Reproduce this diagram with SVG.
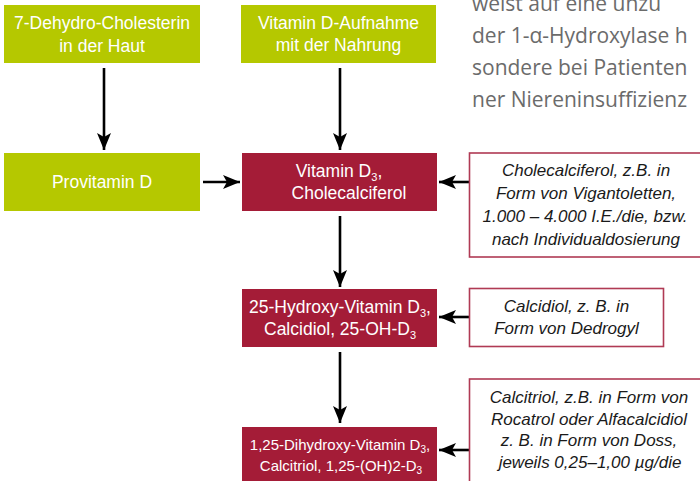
<svg xmlns="http://www.w3.org/2000/svg" width="700" height="481" viewBox="0 0 700 481">
<defs>
<style>
.green{fill:#b5c800}
.red{fill:#a41c37}
.note{fill:#ffffff;stroke:#b03a54;stroke-width:1.6}
.bt{font-family:"Liberation Sans",Arial,sans-serif;font-size:17.5px;fill:#ffffff;text-anchor:middle}
.sm{font-size:15px}
.nt{font-family:"Liberation Sans",Arial,sans-serif;font-size:17px;font-style:italic;fill:#1a1a1a;text-anchor:middle}
.gt{font-family:"Open Sans","Noto Sans",sans-serif;font-size:21px;fill:#6b6b6b}
.con{stroke:#000000;stroke-width:2.6;fill:none;marker-end:url(#ah)}
</style>
<marker id="ah" markerUnits="userSpaceOnUse" markerWidth="18" markerHeight="14" refX="17" refY="7" orient="auto">
<path d="M0,0 L17,7 L0,14 L4,7 Z" fill="#000000"/>
</marker>
</defs>

<g id="bodytext">
<text class="gt" x="472" y="11">weist auf eine unzu</text>
<text class="gt" x="472" y="43">der 1-α-Hydroxylase h</text>
<text class="gt" x="472" y="75">sondere bei Patienten</text>
<text class="gt" x="472" y="107">ner Niereninsuffizienz</text>
</g>

<g id="connectors">
<line class="con" x1="104" y1="68" x2="104" y2="150"/>
<line class="con" x1="340" y1="68" x2="340" y2="150"/>
<line class="con" x1="203" y1="182" x2="240" y2="182"/>
<line class="con" x1="469" y1="182" x2="439" y2="182"/>
<line class="con" x1="340" y1="216" x2="340" y2="287"/>
<line class="con" x1="469" y1="317" x2="439" y2="317"/>
<line class="con" x1="340" y1="352" x2="340" y2="423"/>
<line class="con" x1="469" y1="450" x2="439" y2="450"/>
</g>

<g id="dehydro">
<rect class="green" x="4" y="5" width="196" height="58"/>
<text class="bt" x="102" y="29">7-Dehydro-Cholesterin</text>
<text class="bt" x="102" y="51.5">in der Haut</text>
</g>

<g id="aufnahme">
<rect class="green" x="241" y="5" width="195" height="58"/>
<text class="bt" x="338.5" y="28.5">Vitamin D-Aufnahme</text>
<text class="bt" x="338.5" y="50.5">mit der Nahrung</text>
</g>

<g id="provitamin">
<rect class="green" x="4" y="153" width="196" height="58"/>
<text class="bt" x="102" y="188">Provitamin D</text>
</g>

<g id="vitd3">
<rect class="red" x="242" y="153" width="195" height="58"/>
<text class="bt" x="339" y="177">Vitamin D<tspan font-size="11" dy="4">3</tspan><tspan dy="-4">,</tspan></text>
<text class="bt" x="349" y="198.5">Cholecalciferol</text>
</g>

<g id="calcidiol">
<rect class="red" x="242" y="289" width="195" height="58"/>
<text class="bt" x="340" y="313">25-Hydroxy-Vitamin D<tspan font-size="11" dy="4">3</tspan><tspan dy="-4">,</tspan></text>
<text class="bt" x="340" y="335">Calcidiol, 25-OH-D<tspan font-size="11" dy="4">3</tspan></text>
</g>

<g id="calcitriol">
<rect class="red" x="242" y="427" width="195" height="60"/>
<text class="bt sm" x="340" y="450">1,25-Dihydroxy-Vitamin D<tspan font-size="10" dy="3">3</tspan><tspan dy="-3">,</tspan></text>
<text class="bt sm" x="341" y="471">Calcitriol, 1,25-(OH)2-D<tspan font-size="10" dy="3">3</tspan></text>
</g>

<g id="note-cholecalciferol">
<rect class="note" x="469.5" y="153" width="240" height="104"/>
<text class="nt" x="586" y="176">Cholecalciferol, z.B. in</text>
<text class="nt" x="586" y="199">Form von Vigantoletten,</text>
<text class="nt" x="585" y="222">1.000 – 4.000 I.E./die, bzw.</text>
<text class="nt" x="586" y="244.5">nach Individualdosierung</text>
</g>

<g id="note-calcidiol">
<rect class="note" x="469.5" y="288.5" width="194" height="58"/>
<text class="nt" x="566.5" y="312">Calcidiol, z. B. in</text>
<text class="nt" x="566.5" y="334">Form von Dedrogyl</text>
</g>

<g id="note-calcitriol">
<rect class="note" x="469.5" y="379" width="240" height="110"/>
<text class="nt" x="589" y="403">Calcitriol, z.B. in Form von</text>
<text class="nt" x="589" y="425">Rocatrol oder Alfacalcidiol</text>
<text class="nt" x="589" y="446">z. B. in Form von Doss,</text>
<text class="nt" x="590" y="468">jeweils 0,25–1,00 µg/die</text>
</g>
</svg>
